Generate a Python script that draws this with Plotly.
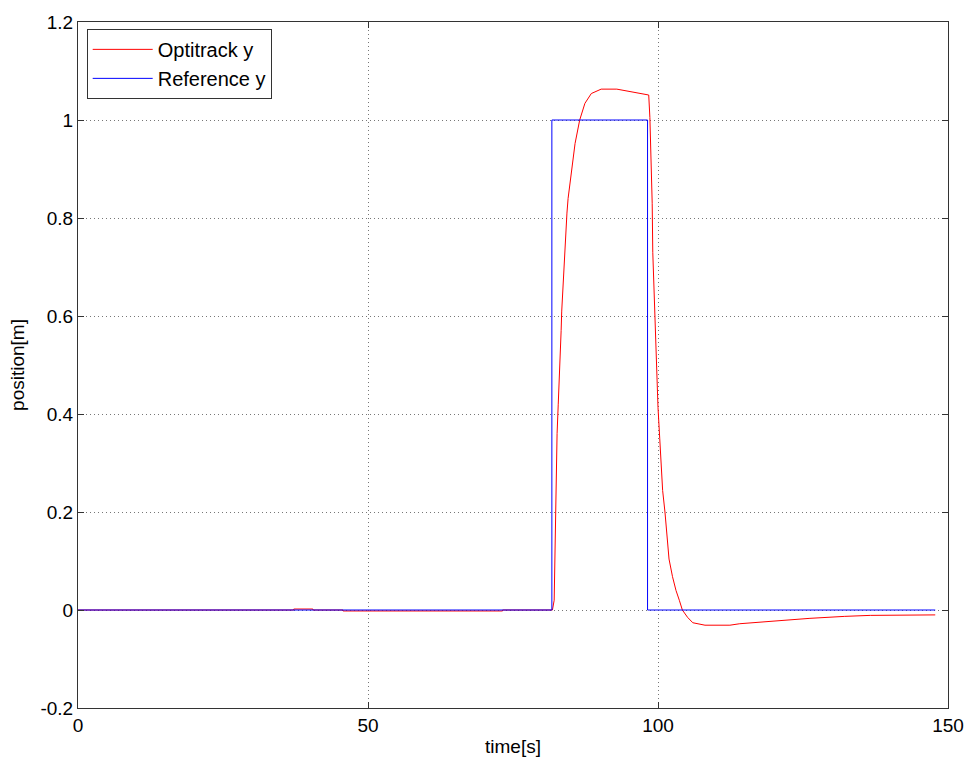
import plotly.graph_objects as go

# Optitrack y (red)
opt_t = [0, 37.2, 37.2, 40.5, 40.5, 45.7, 45.7, 73.2, 73.2, 81.8, 82.1, 82.2, 82.3, 82.5,
         82.6, 82.8, 83.0, 83.1, 83.3, 83.4, 83.6, 83.8, 83.9, 84.1, 84.3, 84.5, 84.7, 84.9,
         85.1, 85.7, 86.5, 87.4, 88.5, 90.2, 92.9, 95.2, 96.9, 98.4, 98.6, 98.8, 99.0, 99.1,
         99.3, 99.6, 99.7, 100.0, 100.3, 100.6, 100.8, 101.2, 101.5, 101.9, 102.5, 103.1, 103.7,
         104.2, 105.1, 106.0, 108.1, 112.4, 114.1, 118.1, 122.2, 126.2, 132.2, 136.6, 147.8]
opt_y = [0, 0, 0.002, 0.002, 0, 0, -0.002, -0.002, 0, 0, 0.02, 0.09, 0.18, 0.27,
         0.36, 0.42, 0.47, 0.51, 0.57, 0.61, 0.66, 0.70, 0.73, 0.76, 0.81, 0.84, 0.86, 0.88,
         0.898, 0.952, 1.0, 1.034, 1.054, 1.063, 1.063, 1.058, 1.054, 1.051, 1.005, 0.93, 0.83, 0.73,
         0.66, 0.575, 0.505, 0.413, 0.35, 0.294, 0.244, 0.20, 0.153, 0.104, 0.068, 0.040, 0.019,
         0.0, -0.015, -0.026, -0.031, -0.031, -0.028, -0.024, -0.020, -0.017, -0.013, -0.011, -0.010]

# Reference y (blue)
ref_t = [0, 81.7, 81.7, 98.2, 98.2, 147.8]
ref_y = [0, 0, 1, 1, 0, 0]

x_ticks = [0, 50, 100, 150]
y_ticks = [-0.2, 0, 0.2, 0.4, 0.6, 0.8, 1.0, 1.2]
y_ticktext = ["-0.2", "0", "0.2", "0.4", "0.6", "0.8", "1", "1.2"]

FONT = "Liberation Sans, Arial, sans-serif"

fig = go.Figure()
fig.add_trace(go.Scatter(x=opt_t, y=opt_y, mode="lines", name="Optitrack y",
                         line=dict(color="#ff0000", width=1)))
fig.add_trace(go.Scatter(x=ref_t, y=ref_y, mode="lines", name="Reference y",
                         line=dict(color="#0000ff", width=1)))

axis_common = dict(
    showline=True, linecolor="#333333", linewidth=1, mirror="ticks",
    ticks="inside", ticklen=6, tickcolor="#333333",
    showgrid=True, gridcolor="#777777", griddash="1px,3px", gridwidth=1,
    zeroline=False, tickfont=dict(family=FONT, size=19, color="#000000"),
    ticklabeloverflow="allow", automargin=False,
)

fig.update_xaxes(range=[0, 150], tickvals=x_ticks, ticktext=[str(v) for v in x_ticks],
                 title=dict(text="time[s]", font=dict(family=FONT, size=19, color="#000"), standoff=4),
                 **axis_common)
fig.update_yaxes(range=[-0.2, 1.2], tickvals=y_ticks, ticktext=y_ticktext,
                 title=dict(text="position[m]", font=dict(family=FONT, size=19, color="#000"), standoff=10),
                 **axis_common)

fig.update_layout(
    width=968, height=762,
    margin=dict(l=78, r=20, t=22, b=54),
    paper_bgcolor="white", plot_bgcolor="white",
    font=dict(family=FONT, size=19, color="#000"),
    legend=dict(x=0.01, y=0.99, xanchor="left", yanchor="top",
                bgcolor="white", bordercolor="#333333", borderwidth=1,
                font=dict(family=FONT, size=20), tracegroupgap=0, itemwidth=60),
    showlegend=True,
)

fig.write_html("out.html")
